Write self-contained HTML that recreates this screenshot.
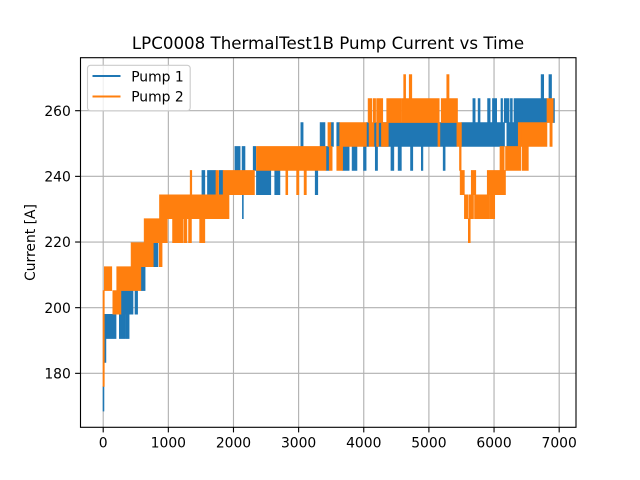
<!DOCTYPE html>
<html lang="en">
<head>
<meta charset="utf-8">
<title>LPC0008 ThermalTest1B Pump Current vs Time</title>
<style>
html,body{margin:0;padding:0;background:#fff;}
svg{display:block;font-family:"DejaVu Sans",sans-serif;}
</style>
</head>
<body>
<svg id="chart" width="640" height="480" viewBox="0 0 640 480" xmlns="http://www.w3.org/2000/svg">
  <rect x="0" y="0" width="640" height="480" fill="#fff"/>
  <g id="grid"></g>
  <g id="series"></g>
  <rect x="80.5" y="57.7" width="495.5" height="369.6" fill="none" stroke="#000" stroke-width="1.11"/>
  <g id="ticks"></g>
  <text x="328" y="49" font-size="16.67" text-anchor="middle" fill="#000">LPC0008 ThermalTest1B Pump Current vs Time</text>
  <text transform="translate(35 242.5) rotate(-90)" font-size="13.89" text-anchor="middle" fill="#000">Current [A]</text>
  <g>
    <rect x="87.5" y="65.3" width="102.7" height="45.5" rx="3" fill="#fff" fill-opacity="0.8" stroke="#ccc" stroke-width="1.11"/>
    <line x1="92.5" y1="76" x2="120.5" y2="76" stroke="#1f77b4" stroke-width="2.08"/>
    <text x="131.2" y="81.3" font-size="13.89" fill="#000">Pump 1</text>
    <line x1="92.5" y1="96.5" x2="120.5" y2="96.5" stroke="#ff7f0e" stroke-width="2.08"/>
    <text x="131.2" y="101.6" font-size="13.89" fill="#000">Pump 2</text>
  </g>
</svg>
<script>
var xTicks = [0, 1000, 2000, 3000, 4000, 5000, 6000, 7000];
var yTicks = [180, 200, 220, 240, 260];

// Each series is read as spans of time over which the signal toggles between a low and a high current.
var pump1Start = [0, 15, 35, 250, 350, 280, 490, 580, 770, 860, 1515, 1600, 1780, 2020, 2130, 2135, 2300, 2350, 2630, 3250, 3415, 3670, 3815, 3990, 4170, 4410, 4520, 4710, 4875, 5210, 3030, 3325, 3490, 3580, 4035, 4150, 4220, 4270, 5160, 5490, 6185, 6310, 5665, 5745, 5890, 5965, 6095, 6145, 6240, 6295, 6895, 6710, 6830];
var pump1End = [15, 45, 200, 340, 400, 460, 530, 645, 840, 875, 1560, 1730, 1840, 2100, 2175, 2150, 2340, 2570, 2710, 3290, 3465, 3770, 3890, 4030, 4205, 4455, 4570, 4745, 4900, 5240, 3065, 3400, 3530, 3625, 4075, 4190, 4270, 5130, 5420, 6150, 6310, 6360, 5700, 5775, 5930, 6030, 6120, 6220, 6270, 6800, 6915, 6750, 6870];
var pump1Low = [168.5, 183.3, 190.6, 190.6, 190.6, 198, 198, 205.2, 212.5, 212.5, 234.4, 234.4, 234.4, 241.8, 241.8, 227.1, 241.8, 234.4, 234.4, 234.4, 241.8, 241.8, 241.8, 241.8, 241.8, 241.8, 241.8, 241.8, 241.8, 241.8, 249.1, 249.1, 249.1, 249.1, 249.1, 249.1, 249.1, 249.1, 249.1, 249.1, 249.1, 249.1, 256.4, 256.4, 256.4, 256.4, 256.4, 256.4, 256.4, 256.4, 256.4, 263.7, 263.7];
var pump1High = [176, 198, 198, 198, 198, 205.2, 205.2, 212.5, 219.8, 219.8, 241.8, 241.8, 241.8, 249.1, 249.1, 234.4, 249.1, 241.8, 241.8, 241.8, 249.1, 249.1, 249.1, 249.1, 249.1, 249.1, 249.1, 249.1, 249.1, 249.1, 256.4, 256.4, 256.4, 256.4, 256.4, 256.4, 256.4, 256.4, 256.4, 256.4, 256.4, 256.4, 263.7, 263.7, 263.7, 263.7, 263.7, 263.7, 263.7, 263.7, 263.7, 271, 271];

var pump2Start = [0, 20, 150, 210, 430, 860, 630, 865, 1065, 1240, 1310, 1480, 1525, 1335, 1730, 1840, 2350, 2800, 2965, 3080, 3465, 3580, 3445, 3625, 4075, 4190, 4265, 4060, 4140, 4190, 4345, 4575, 5180, 4605, 4690, 5265, 5130, 5420, 5460, 5470, 5640, 5885, 5535, 5605, 5690, 5930, 5595, 6080, 6165, 6420, 6360, 6395, 6845, 6800];
var pump2End = [20, 135, 275, 580, 770, 905, 985, 1930, 1225, 1285, 1355, 1520, 1560, 1360, 1770, 2320, 3415, 2830, 3000, 3115, 3510, 3670, 3490, 4035, 4150, 4220, 4370, 4120, 4175, 4285, 4565, 5150, 5430, 4635, 4730, 5300, 5160, 5490, 5485, 5535, 5710, 6165, 5590, 5675, 5920, 6000, 5625, 6145, 6400, 6515, 6400, 6800, 6880, 6895];
var pump2Low = [176, 205.2, 198, 205.2, 212.5, 212.5, 219.8, 227.1, 219.8, 219.8, 219.8, 219.8, 219.8, 234.4, 234.4, 234.4, 241.8, 234.4, 234.4, 234.4, 241.8, 241.8, 249.1, 249.1, 249.1, 249.1, 249.1, 256.4, 256.4, 256.4, 256.4, 256.4, 256.4, 263.7, 263.7, 263.7, 249.1, 249.1, 241.8, 234.4, 234.4, 234.4, 227.1, 227.1, 227.1, 227.1, 219.8, 241.8, 241.8, 241.8, 249.1, 249.1, 249.1, 256.4];
var pump2High = [205.2, 212.5, 205.2, 212.5, 219.8, 219.8, 227.1, 234.4, 227.1, 227.1, 227.1, 227.1, 227.1, 241.8, 241.8, 241.8, 249.1, 241.8, 241.8, 241.8, 249.1, 249.1, 256.4, 256.4, 256.4, 256.4, 256.4, 263.7, 263.7, 263.7, 263.7, 263.7, 263.7, 271, 271, 271, 256.4, 256.4, 249.1, 241.8, 241.8, 241.8, 234.4, 234.4, 234.4, 234.4, 227.1, 249.1, 249.1, 249.1, 256.4, 256.4, 256.4, 263.7];

var SVG_NS = 'http://www.w3.org/2000/svg';

function xScale(t) {
  return 103 + t * 0.06529;
}

function yScale(v) {
  return 110.7 + (260 - v) * 3.283;
}

function bandPath(starts, ends, lows, highs) {
  var d = '';
  for (var i = 0; i < starts.length; i++) {
    var x0 = xScale(starts[i]).toFixed(2);
    var x1 = xScale(ends[i]).toFixed(2);
    var y0 = yScale(lows[i]).toFixed(2);
    var y1 = yScale(highs[i]).toFixed(2);
    d += 'M' + x0 + ' ' + y0 + 'L' + x1 + ' ' + y0 + 'L' + x1 + ' ' + y1 + 'L' + x0 + ' ' + y1 + 'Z';
  }
  return d;
}

var gridGroup = document.getElementById('grid');
var tickGroup = document.getElementById('ticks');
var seriesGroup = document.getElementById('series');

xTicks.forEach(function (t) {
  var px = xScale(t) + 0.2 - t * 0.00015;

  var grid = document.createElementNS(SVG_NS, 'line');
  
  
  grid.setAttribute('x1', px);
  grid.setAttribute('x2', px);
  grid.setAttribute('y1', 57.6);
  grid.setAttribute('y2', 427.2);
  grid.setAttribute('stroke', '#b0b0b0');
  grid.setAttribute('stroke-width', 1.11);
  gridGroup.appendChild(grid);

  var tick = document.createElementNS(SVG_NS, 'line');
  
  
  tick.setAttribute('x1', px);
  tick.setAttribute('x2', px);
  tick.setAttribute('y1', 427.5);
  tick.setAttribute('y2', 432.4);
  tick.setAttribute('stroke', '#000');
  tick.setAttribute('stroke-width', 1.11);
  tickGroup.appendChild(tick);

  var label = document.createElementNS(SVG_NS, 'text');
  
  
  label.setAttribute('x', px);
  label.setAttribute('y', 447.5);
  label.setAttribute('font-size', 13.89);
  label.setAttribute('text-anchor', 'middle');
  label.textContent = String(t);
  tickGroup.appendChild(label);
});

yTicks.forEach(function (v) {
  var py = yScale(v);

  var grid = document.createElementNS(SVG_NS, 'line');
  
  
  grid.setAttribute('x1', 80);
  grid.setAttribute('x2', 576);
  grid.setAttribute('y1', py);
  grid.setAttribute('y2', py);
  grid.setAttribute('stroke', '#b0b0b0');
  grid.setAttribute('stroke-width', 1.11);
  gridGroup.appendChild(grid);

  var tick = document.createElementNS(SVG_NS, 'line');
  
  
  tick.setAttribute('x1', 75.1);
  tick.setAttribute('x2', 80);
  tick.setAttribute('y1', py);
  tick.setAttribute('y2', py);
  tick.setAttribute('stroke', '#000');
  tick.setAttribute('stroke-width', 1.11);
  tickGroup.appendChild(tick);

  var label = document.createElementNS(SVG_NS, 'text');
  
  
  label.setAttribute('x', 70.8);
  label.setAttribute('y', py + 5.2);
  label.setAttribute('font-size', 13.89);
  label.setAttribute('text-anchor', 'end');
  label.textContent = String(v);
  tickGroup.appendChild(label);
});

var pump1Path = document.createElementNS(SVG_NS, 'path');


pump1Path.setAttribute('fill', '#1f77b4');
pump1Path.setAttribute('stroke', '#1f77b4');
pump1Path.setAttribute('stroke-width', 0.6);
pump1Path.setAttribute('d', bandPath(pump1Start, pump1End, pump1Low, pump1High));
seriesGroup.appendChild(pump1Path);

var pump2Path = document.createElementNS(SVG_NS, 'path');


pump2Path.setAttribute('fill', '#ff7f0e');
pump2Path.setAttribute('stroke', '#ff7f0e');
pump2Path.setAttribute('stroke-width', 0.6);
pump2Path.setAttribute('d', bandPath(pump2Start, pump2End, pump2Low, pump2High));
seriesGroup.appendChild(pump2Path);
</script>
</body>
</html>
